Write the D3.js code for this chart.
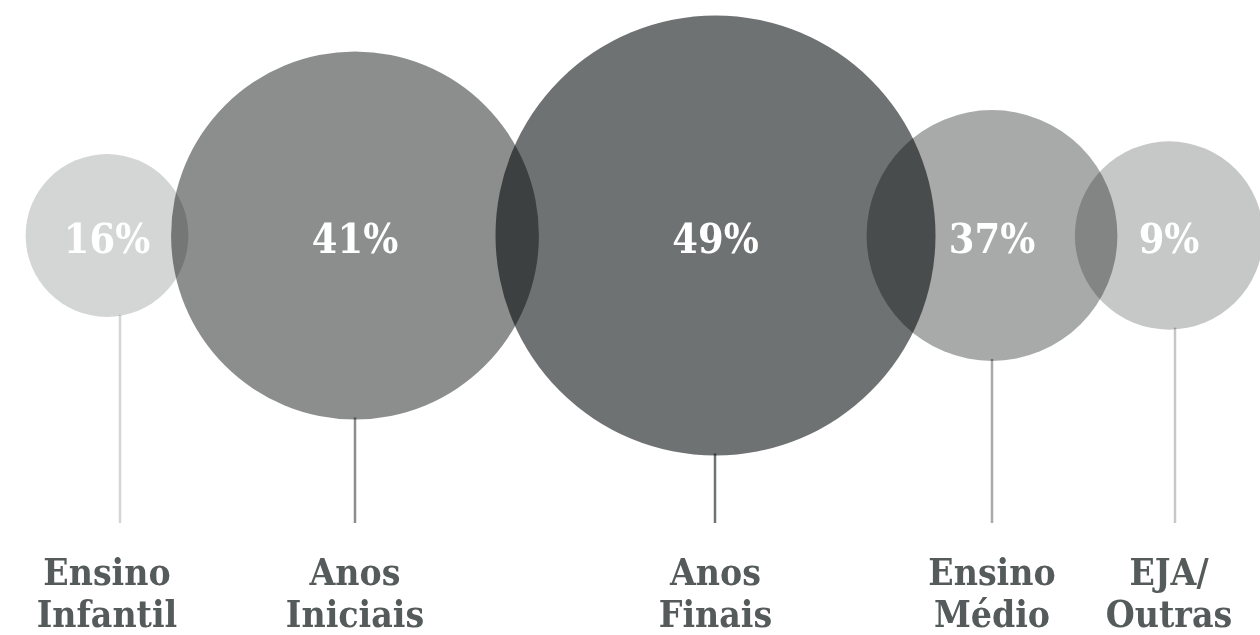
<!doctype html>
<html>
<head>
    <meta charset="utf8">
    <script src="https://cdn.jsdelivr.net/npm/d3@7"></script>
    <style>
        body { margin: 0; background: #fff; }
        .bubble { mix-blend-mode: multiply; }
        .pct {
            fill: #fff;
            font-family: "DejaVu Serif Condensed", "DejaVu Serif", serif;
            font-stretch: condensed;
            font-weight: bold;
            font-size: 41px;
        }
        .cat {
            fill: #555b5b;
            font-family: "DejaVu Serif Condensed", "DejaVu Serif", serif;
            font-stretch: condensed;
            font-weight: bold;
            font-size: 37px;
        }
</style>
</head>
<body>
<svg width="1260" height="635"></svg>
<script>

    // data
    var categories = [["Ensino", "Infantil"], ["Anos", "Iniciais"], ["Anos", "Finais"], ["Ensino", "Médio"], ["EJA/", "Outras"]];
    var values = [16, 41, 49, 37, 9];
    // bubble size series (same units as the 49% bubble)
    var sizes = [18.5, 41.8, 50, 28.5, 21.4];
    var colors = ["#d4d6d5", "#8c8e8d", "#6f7273", "#a8aaa9", "#c6c8c7"];

    // layout
    var centersX = [107, 355, 715.5, 992, 1169],
        stemsX = [120, 355, 715, 992, 1175],
        cy = 235.5,
        stemBottom = 523;

    var svg = d3.select("svg");

    var r = d3.scaleLinear().domain([0, 50]).range([0, 220]);

    var data = categories.map(function(c, i) {
        return { cat: c, value: values[i], size: sizes[i], color: colors[i], x: centersX[i], sx: stemsX[i] };
    });

    // stems
    svg.selectAll(".stem")
       .data(data)
       .enter().append("line")
       .attr("class", "stem")
       .attr("x1", function(d) { return d.sx; })
       .attr("x2", function(d) { return d.sx; })
       .attr("y1", function(d) { return cy + r(d.size) - 2; })
       .attr("y2", stemBottom)
       .attr("stroke", function(d) { return d.color; })
       .attr("stroke-width", 2.5);

    // bubbles
    svg.selectAll(".bubble")
       .data(data)
       .enter().append("circle")
       .attr("class", "bubble")
       .attr("cx", function(d) { return d.x; })
       .attr("cy", cy)
       .attr("r", function(d) { return r(d.size); })
       .attr("fill", function(d) { return d.color; });

    // percentages
    svg.selectAll(".pct")
       .data(data)
       .enter().append("text")
       .attr("class", "pct")
       .attr("x", function(d) { return d.x; })
       .attr("y", 253)
       .attr("text-anchor", "middle")
       .text(function(d) { return d.value + "%"; });

    // category labels
    var lab = svg.selectAll(".cat")
       .data(data)
       .enter().append("text")
       .attr("class", "cat")
       .attr("text-anchor", "middle")
       .attr("y", 585);

    lab.selectAll("tspan")
       .data(function(d) { return d.cat.map(function(t) { return { t: t, x: d.x }; }); })
       .enter().append("tspan")
       .attr("x", function(d) { return d.x; })
       .attr("dy", function(d, i) { return i == 0 ? 0 : 42; })
       .text(function(d) { return d.t; });

</script>
</body>
</html>
